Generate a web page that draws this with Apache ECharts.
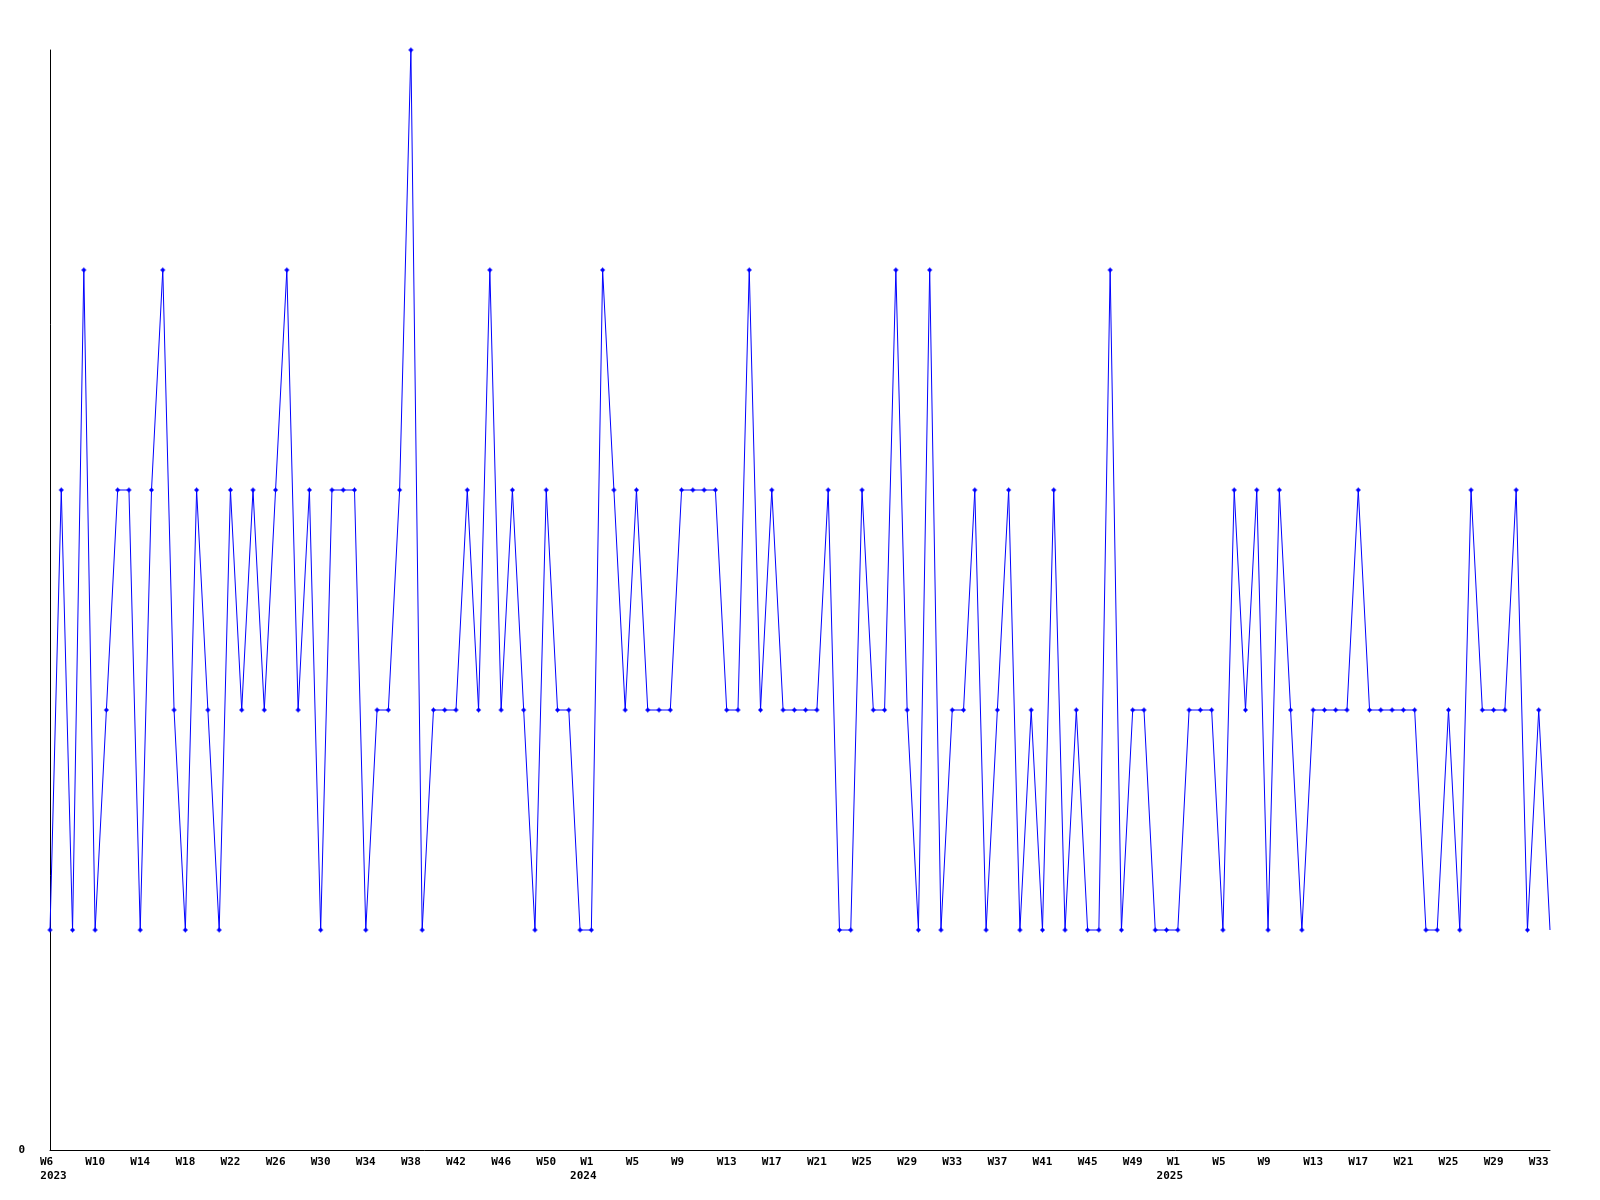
<!DOCTYPE html>
<html><head><meta charset="utf-8">
<script src="https://cdn.jsdelivr.net/npm/echarts@6/dist/echarts.min.js"></script>
<style>html,body{margin:0;padding:0;background:#fff}#c{width:1600px;height:1200px}</style>
</head><body><div id="c"></div>
<script>
// [year, first week, last week]
const weekRanges = [[2023, 6, 53], [2024, 1, 52], [2025, 1, 34]];
const values2023 = [1,3,1,4,1,2,3,3,1,3,4,2,1,3,2,1,3,2,3,2,3,4,2,3,1,
                    3,3,3,1,2,2,3,5,1,2,2,2,3,2,4,2,3,2,1,3,2,2,1];
const values2024 = [1,4,3,2,3,2,2,2,3,3,3,3,2,2,4,2,3,2,2,2,2,3,1,1,
                    3,2,2,4,2,1,4,1,2,2,3,1,2,3,1,2,1,3,1,2,1,1,4,1,
                    2,2,1,1];
const values2025 = [1,2,2,2,1,3,2,3,1,3,2,1,2,2,2,2,3,2,2,2,
                    2,2,1,1,2,1,3,2,2,2,3,1,2,1];
const yTickLabels = ['0'];

const categories = [];
weekRanges.forEach(([yr, a, b]) => { for (let w = a; w <= b; w++) categories.push(yr + '-W' + w); });
const values = values2023.concat(values2024, values2025);
const seriesData = values.map((v, i) => i === values.length - 1 ? {value: v, symbol: 'none'} : v);

const FONT = 'DejaVu Sans Mono';
const base = {fontFamily: FONT, fontWeight: 'bold', fontSize: 11, lineHeight: 14, color: '#000', align: 'center'};

const chart = echarts.init(document.getElementById('c'), null, {renderer: 'canvas'});
chart.setOption({
  animation: false,
  backgroundColor: '#fff',
  grid: {left: 50, right: 50, top: 50, bottom: 50, containLabel: false},
  xAxis: {
    type: 'category',
    data: categories,
    boundaryGap: false,
    axisLine: {show: true, lineStyle: {color: '#000', width: 1}},
    axisTick: {show: false},
    splitLine: {show: false},
    axisLabel: {
      interval: 3,
      margin: 5,
      fontFamily: FONT, fontWeight: 'bold', fontSize: 11, lineHeight: 14, color: '#000',
      formatter: (value, index) => {
        const parts = value.split('-');
        const yr = parts[0], w = parts[1];
        if (index === 0) return '{w0|' + w + '}\n{y0|' + yr + '}';
        if (w === 'W1') return '{w1|' + w + '}\n{y1|' + yr + '}';
        if (w.length === 2) return '{s|' + w + '}';
        return '{n|' + w + '}';
      },
      rich: {
        n: Object.assign({}, base),
        s: Object.assign({}, base, {padding: [0, 8, 0, 0]}),
        w0: Object.assign({}, base, {padding: [0, 7, 0, 0]}),
        y0: Object.assign({}, base, {padding: [0, 0, 0, 7]}),
        w1: Object.assign({}, base, {padding: [0, 9, 0, 0]}),
        y1: Object.assign({}, base, {padding: [0, 16, 0, 0]})
      }
    }
  },
  yAxis: {
    type: 'value',
    min: 0, max: 5, interval: 5,
    axisLine: {show: true, lineStyle: {color: '#000', width: 1}},
    axisTick: {show: false},
    splitLine: {show: false},
    axisLabel: {
      margin: 25,
      fontFamily: FONT, fontWeight: 'bold', fontSize: 11, color: '#000',
      formatter: v => (v === 0 ? yTickLabels[0] : '')
    }
  },
  series: [{
    type: 'line',
    data: seriesData,
    showAllSymbol: true,
    symbol: 'path://M2,0H3V1H4V2H5V3H4V4H3V5H2V4H1V3H0V2H1V1H2Z',
    symbolSize: 5,
    itemStyle: {color: '#0000ff'},
    lineStyle: {color: '#0000ff', width: 1},
    emphasis: {disabled: true}
  }]
});
</script>
</body></html>
